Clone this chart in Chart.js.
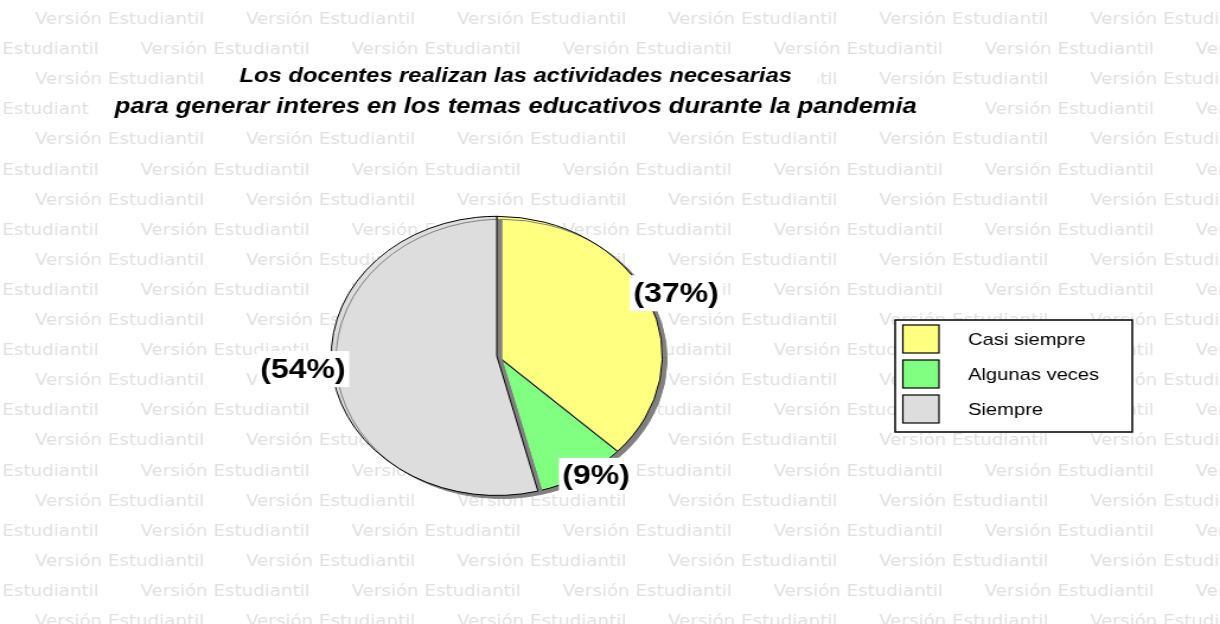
<!DOCTYPE html>
<html>
<head>
<meta charset="utf-8">
<script src="https://cdn.jsdelivr.net/npm/chart.js@4.4.1/dist/chart.umd.min.js"></script>
<style>
html, body { margin: 0; padding: 0; background: #fff; overflow: hidden; }
/* the original picture is stretched sideways, so the canvas is too */
#wrap { position: absolute; left: 0; top: 0; width: 1029px; height: 624px; transform: scaleX(1.18562); transform-origin: 0 0; }
</style>
</head>
<body>
<div id="wrap"><canvas id="pieCanvas"></canvas></div>
<script>
const categories = ['Casi siempre', 'Algunas veces', 'Siempre'];
const percentValues = [37, 9, 54];
const sliceColors = ['#FFFF80', '#80FF80', '#DDDDDD'];
const titleLines = [
    'Los docentes realizan las actividades necesarias',
    'para generar interes en los temas educativos durante la pandemia'
];
const watermarkText = 'Versión Estudiantil';

const pieShiftX = -16;

// repeated watermark, plus white bands behind the two title lines
const backgroundPlugin = {
    id: 'studentWatermark',
    beforeDraw(chart) {
        const ctx = chart.ctx;
        ctx.save();
        ctx.font = '100px "DejaVu Sans"';
        const size = 100 * 143 / ctx.measureText(watermarkText).width;
        ctx.font = size + 'px "DejaVu Sans"';
        ctx.fillStyle = '#e0e0e0';
        ctx.textBaseline = 'middle';
        for (let row = 0; row < 21; row++) {
            const y = 20 + row * 30.1;
            const start = 29.5 + (row % 2) * 89 - 178;
            for (let x = start; x < chart.width; x += 178) {
                ctx.fillText(watermarkText, x, y);
            }
        }

        ctx.fillStyle = '#fff';
        chart.boxes.forEach(b => {
            if (!b.options || typeof b.options.text !== 'string' || !b.options.display) return;
            const font = Chart.helpers.toFont(b.options.font);
            const pad = Chart.helpers.toPadding(b.options.padding);
            ctx.font = font.string;
            const w = ctx.measureText(b.options.text).width;
            const cx = (b.left + b.right) / 2;
            ctx.fillRect(cx - w / 2 - 22, b.top + pad.top - 2, w + 44, font.lineHeight + 4);
        });
        ctx.restore();
    }
};

// grey drop shadow under the slices + the (xx%) labels
const shadowPlugin = {
    id: 'pieShadow',
    beforeDatasetsDraw(chart) {
        const ctx = chart.ctx;
        ctx.save();
        ctx.translate(pieShiftX, 0);
        ctx.shadowColor = '#808080';
        ctx.shadowOffsetX = 4;
        ctx.shadowOffsetY = 3;
        ctx.shadowBlur = 0;
    },
    afterDatasetsDraw(chart) {
        const ctx = chart.ctx;
        ctx.restore();

        const meta = chart.getDatasetMeta(0);
        const total = percentValues.reduce((a, b) => a + b, 0);
        ctx.save();
        ctx.translate(pieShiftX, 0);
        ctx.font = 'bold 27px "Liberation Sans", Arial, sans-serif';
        ctx.textAlign = 'center';
        ctx.textBaseline = 'middle';
        meta.data.forEach((arc, i) => {
            const p = arc.getProps(['x', 'y', 'startAngle', 'endAngle', 'outerRadius'], true);
            const mid = (p.startAngle + p.endAngle) / 2;
            const lx = p.x + Math.cos(mid) * p.outerRadius * 1.18;
            // labels sit a little above the mid-angle point
            const ly = p.y + Math.sin(mid) * p.outerRadius * 1.04 - 5;
            const text = '(' + Math.round(percentValues[i] / total * 100) + '%)';
            const w = ctx.measureText(text).width + 6;
            ctx.fillStyle = '#fff';
            ctx.fillRect(lx - w / 2, ly - 18, w, 36);
            ctx.fillStyle = '#000';
            ctx.fillText(text, lx, ly + 1);
        });
        ctx.restore();
    }
};

// boxed legend on the right
const legendPlugin = {
    id: 'boxLegend',
    afterDraw(chart) {
        const ctx = chart.ctx;
        const ds = chart.data.datasets[0];
        ctx.save();
        ctx.fillStyle = '#fff';
        ctx.fillRect(755, 320, 200, 112);
        ctx.strokeStyle = '#000';
        ctx.lineWidth = 1.5;
        ctx.strokeRect(755, 320, 200, 112);
        ctx.font = '17px "Liberation Sans", Arial, sans-serif';
        ctx.textBaseline = 'middle';
        chart.data.labels.forEach((label, i) => {
            const y = 325 + i * 35;
            ctx.fillStyle = ds.backgroundColor[i];
            ctx.fillRect(761.5, y, 30.5, 28);
            ctx.lineWidth = 1.2;
            ctx.strokeRect(761.5, y, 30.5, 28);
            ctx.fillStyle = '#000';
            ctx.fillText(label, 816.5, y + 15);
        });
        ctx.restore();
    }
};

const titleFont = '"Liberation Sans", Arial, sans-serif';

new Chart(document.getElementById('pieCanvas'), {
    type: 'pie',
    data: {
        labels: categories,
        datasets: [{
            data: percentValues,
            backgroundColor: sliceColors,
            borderColor: '#000',
            borderWidth: 1,
            hoverOffset: 0
        }]
    },
    options: {
        responsive: true,
        maintainAspectRatio: false,
        animation: false,
        events: [],
        layout: { padding: { left: 0, right: 159, top: 0, bottom: 128 } },
        plugins: {
            legend: { display: false },
            tooltip: { enabled: false },
            title: {
                display: true,
                text: titleLines[0],
                color: '#000',
                font: { family: titleFont, size: 20, weight: 'bold', style: 'italic' },
                padding: { top: 64, bottom: 0 }
            },
            subtitle: {
                display: true,
                text: titleLines[1],
                color: '#000',
                font: { family: titleFont, size: 21.5, weight: 'bold', style: 'italic' },
                padding: { top: 6, bottom: 96 }
            }
        }
    },
    plugins: [backgroundPlugin, shadowPlugin, legendPlugin]
});
</script>
</body>
</html>
